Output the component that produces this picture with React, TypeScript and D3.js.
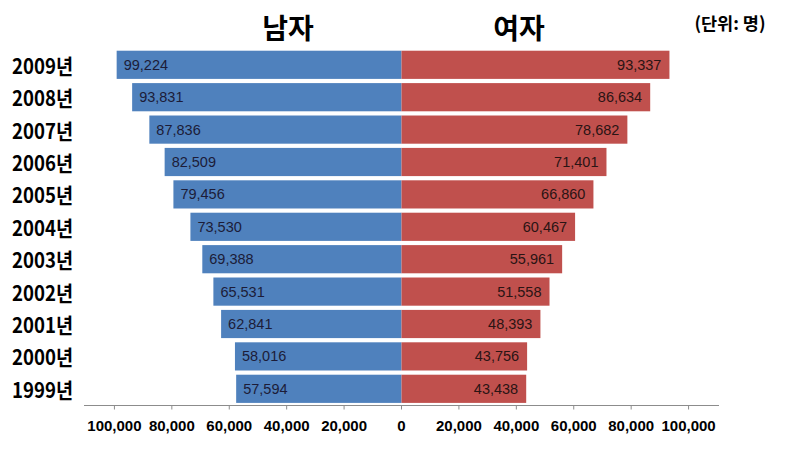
import React from 'react'
import * as d3 from 'd3'

// values in persons, top row first
const years = ['2009년', '2008년', '2007년', '2006년', '2005년', '2004년', '2003년', '2002년', '2001년', '2000년', '1999년']
const male = [99224, 93831, 87836, 82509, 79456, 73530, 69388, 65531, 62841, 58016, 57594]
const female = [93337, 86634, 78682, 71401, 66860, 60467, 55961, 51558, 48393, 43756, 43438]
const tickValues = [-100000, -80000, -60000, -40000, -20000, 0, 20000, 40000, 60000, 80000, 100000]

const W = 804
const H = 466
const axisY = 405.5

const App = () => {
    // scales
    const x = d3.scaleLinear().domain([-110600, 110600]).range([84, 719])
    const y = d3.scaleBand().domain(years).range([48.6, 405]).paddingInner(0.13).paddingOuter(0.065)
    const fmt = d3.format(',')
    const kr = '"Noto Sans CJK KR", "Liberation Sans", sans-serif'
    const num = '"Liberation Sans", Arial, sans-serif'

    return (
        <div style={{ position: 'absolute', left: 0, top: 0 }}>
            <svg width={W} height={H} style={{ display: 'block', background: '#fff' }}>
                {/* headers */}
                <text x={288} y={27} textAnchor="middle" dominantBaseline="central" fontFamily={kr} fontWeight="bold" fontSize={28}>
                    남자
                </text>
                <text x={519} y={27} textAnchor="middle" dominantBaseline="central" fontFamily={kr} fontWeight="bold" fontSize={28}>
                    여자
                </text>
                <text x={730} y={22} textAnchor="middle" dominantBaseline="central" fontFamily={kr} fontWeight="bold" fontSize={17.5}>
                    (단위: 명)
                </text>

                {/* bars */}
                {years.map((yr, i) => {
                    const y0 = y(yr) as number
                    const h = y.bandwidth()
                    const cy = y0 + h / 2
                    return (
                        <g key={yr}>
                            <rect x={x(-male[i])} y={y0} width={x(0) - x(-male[i])} height={h} fill="#4f81bd" />
                            <rect x={x(0)} y={y0} width={x(female[i]) - x(0)} height={h} fill="#c0504d" />
                            <text x={x(-male[i]) + 7} y={cy} dominantBaseline="central" fontFamily={num} fontSize={14.5} fill="#1c1c38">
                                {fmt(male[i])}
                            </text>
                            <text x={x(female[i]) - 8} y={cy} textAnchor="end" dominantBaseline="central" fontFamily={num} fontSize={14.5} fill="#2a1414">
                                {fmt(female[i])}
                            </text>
                            <text
                                x={73}
                                y={cy}
                                textAnchor="end"
                                dominantBaseline="central"
                                fontFamily={kr}
                                fontWeight="bold"
                                fontSize={21}
                                textLength={61}
                                lengthAdjust="spacingAndGlyphs"
                            >
                                {yr}
                            </text>
                        </g>
                    )
                })}

                {/* axis */}
                <line x1={84} x2={719} y1={axisY} y2={axisY} stroke="#8c8c8c" strokeWidth={1} />
                {tickValues.map(t => (
                    <g key={t}>
                        <line x1={x(t)} x2={x(t)} y1={axisY} y2={axisY + 4} stroke="#8c8c8c" />
                        <text x={x(t)} y={425} textAnchor="middle" dominantBaseline="central" fontFamily={num} fontWeight="bold" fontSize={15} fill="#000">
                            {fmt(Math.abs(t))}
                        </text>
                    </g>
                ))}
            </svg>
        </div>
    )
}

export default App
